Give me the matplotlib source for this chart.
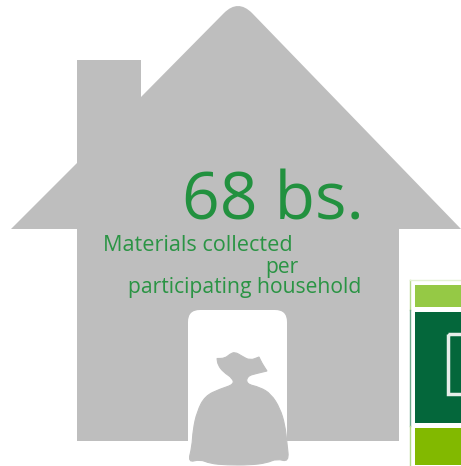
import matplotlib
matplotlib.use('Agg')
import matplotlib.pyplot as plt
from matplotlib.path import Path
from matplotlib.patches import PathPatch, Rectangle, FancyBboxPatch

GRAY = '#bebebe'
TEXT_GREEN = '#2a9444'

plt.rcParams['font.family'] = ['Open Sans', 'DejaVu Sans']

# all shapes are in pixel units, y going down
house_x = [11, 77, 77, 141, 141, 224, 238, 252, 461, 399, 399, 77, 77, 11]
house_y = [229, 163, 60, 60, 97, 13, -1, 13, 229, 229, 441, 441, 229, 229]
house_codes = [Path.MOVETO] + [Path.LINETO] * 4 + [Path.LINETO, Path.CURVE3, Path.CURVE3] + \
    [Path.LINETO] * 5 + [Path.CLOSEPOLY]

door_left, door_right, door_top, door_bottom = 188, 287, 310, 470

# corners of the knot are listed twice so the spline stays tight there
bag_x = [217, 217, 225, 230, 235, 241.7, 250, 259, 259, 262, 267, 267, 257.3, 247.3, 246.2, 260, 271,
         280, 285, 287, 289, 276.7, 266.7, 250, 226.7, 210, 200, 188, 192, 193, 197,
         205, 220, 233.8, 232.7, 223.3, 218]
bag_y = [358.5, 358.5, 358.3, 354, 352, 356, 360.5, 357, 357, 363.3, 371, 371, 373.3, 376, 384, 387.3, 394,
         408.3, 425, 443.3, 462, 458.7, 463, 465, 465, 463.5, 459.3, 462.5, 446.7, 430, 411.7,
         396, 389, 384.5, 378.3, 372, 365]

headline = '68 bs.'
caption_lines = ['Materials collected', 'per', 'participating household']
caption_x = [103, 265, 128]
caption_y = [251, 273, 293]
caption_size = [15.6, 15.2, 15.2]


def smooth_outline(xs, ys):
    # closed quadratic spline through the midpoints of the outline
    pts = list(zip(xs, ys))
    mid = lambda a, b: ((a[0] + b[0]) / 2, (a[1] + b[1]) / 2)
    verts = [mid(pts[-1], pts[0])]
    codes = [Path.MOVETO]
    for i, p in enumerate(pts):
        verts += [p, mid(p, pts[(i + 1) % len(pts)])]
        codes += [Path.CURVE3, Path.CURVE3]
    return Path(verts, codes)


fig = plt.figure(figsize=(4.61, 4.66), dpi=100)
ax = fig.add_axes([0, 0, 1, 1])
ax.set_xlim(0, 461)
ax.set_ylim(466, 0)
ax.axis('off')

ax.add_patch(PathPatch(Path(list(zip(house_x, house_y)), house_codes), fc=GRAY, ec='none'))
ax.add_patch(FancyBboxPatch((door_left + 12, door_top + 12), door_right - door_left - 24,
                            door_bottom - door_top, boxstyle='round,pad=12,rounding_size=12',
                            fc='white', ec='none'))
ax.add_patch(PathPatch(smooth_outline(bag_x, bag_y), fc=GRAY, ec=GRAY, lw=0.8))

ax.text(182, 219, headline, color='#22913f', fontsize=47.5, ha='left', va='baseline')
for line, x, y, size in zip(caption_lines, caption_x, caption_y, caption_size):
    ax.text(x, y, line, color=TEXT_GREEN, fontsize=size, ha='left', va='baseline')

# sliver of the neighbouring panel on the right
ax.plot([410, 410], [280, 310], color='#b5d98a', lw=1)
ax.plot([410, 410], [310, 426], color='#6fa98c', lw=1)
ax.plot([410, 410], [426, 466], color='#b5d98a', lw=1)
ax.plot([410, 461], [280, 280], color='#e4f1d2', lw=1)
ax.add_patch(Rectangle((415, 285), 46, 22, fc='#95c945', ec='none'))
ax.add_patch(Rectangle((415, 312), 46, 111, fc='#04673b', ec='none'))
ax.add_patch(Rectangle((447.5, 333.5), 20, 60, fc='none', ec='#e8eeea', lw=2.5))
ax.add_patch(Rectangle((415, 428), 46, 37, fc='#82b900', ec='none'))

fig.savefig('out.png', dpi=100)
